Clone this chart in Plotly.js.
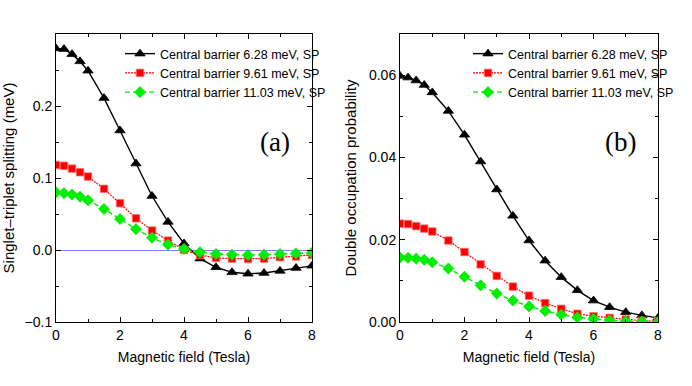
<!DOCTYPE html>
<html>
<head>
<meta charset="utf-8">
<script src="https://cdn.plot.ly/plotly-3.0.1.min.js"></script>
<style>html,body{margin:0;padding:0;background:#fff;}#chart{width:692px;height:386px;}</style>
</head>
<body>
<div id="chart"></div>
<script>
// Magnetic field (Tesla)
const field = [0, 0.25, 0.5, 0.75, 1, 1.5, 2, 2.5, 3, 3.5, 4, 4.5, 5, 5.5, 6, 6.5, 7, 7.5, 8];

const seriesNames = [
  "Central barrier 6.28 meV, SP",
  "Central barrier 9.61 meV, SP",
  "Central barrier 11.03 meV, SP"
];

// Panel (a): singlet-triplet splitting (meV)
const splitting628 = [0.280, 0.279, 0.272, 0.262, 0.249, 0.211, 0.166, 0.120, 0.075, 0.039, 0.009, -0.012, -0.024, -0.031, -0.033, -0.032, -0.029, -0.025, -0.022];
const splitting961 = [0.118, 0.117, 0.113, 0.108, 0.102, 0.085, 0.065, 0.044, 0.027, 0.013, 0.000, -0.007, -0.011, -0.012, -0.0125, -0.012, -0.010, -0.009, -0.007];
const splitting1103 = [0.080, 0.079, 0.077, 0.074, 0.069, 0.057, 0.043, 0.029, 0.017, 0.0075, 0.0015, -0.003, -0.0055, -0.0065, -0.007, -0.0065, -0.0055, -0.0045, -0.004];

// Panel (b): double occupation probability
const occupation628 = [0.0598, 0.0594, 0.0587, 0.0576, 0.0558, 0.0513, 0.0455, 0.0390, 0.0322, 0.0258, 0.0198, 0.0149, 0.0109, 0.0077, 0.0052, 0.0036, 0.0024, 0.0016, 0.0010];
const occupation961 = [0.0239, 0.0238, 0.0233, 0.0227, 0.0220, 0.0198, 0.0170, 0.0140, 0.0112, 0.0086, 0.0064, 0.0046, 0.0032, 0.0020, 0.0014, 0.0010, 0.0006, 0.0003, 0.0002];
const occupation1103 = [0.0157, 0.0156, 0.0154, 0.0151, 0.0145, 0.0130, 0.0110, 0.0089, 0.0069, 0.0052, 0.0038, 0.0027, 0.0018, 0.0011, 0.0007, 0.0004, 0.0002, 0.0001, 0.0000];

const xTicks = [0, 2, 4, 6, 8];
const xMinor = [1, 3, 5, 7];
const yTicksA = [-0.1, 0.0, 0.1, 0.2];
const yMinorA = [-0.05, 0.05, 0.15, 0.25];
const yTicksB = [0, 0.02, 0.04, 0.06];
const yMinorB = [0.01, 0.03, 0.05];
const panelLabels = ["(a)", "(b)"];

const narrow = "Liberation Sans Narrow, Arial Narrow, sans-serif";
const regular = "Liberation Sans, Arial, sans-serif";

const styles = [
  {color: "#000000", symbol: "triangle-up", size: 9, dash: "solid", width: 1.4, edge: "#000000"},
  {color: "#ff0000", symbol: "square", size: 7.5, dash: "2px,1px", width: 1.2, edge: "#ff7070"},
  {color: "#00ee00", symbol: "diamond", size: 8.5, dash: "5px,3px", width: 1.4, edge: "#00ee00"}
];

function mk(y, i, xa, ya, legend) {
  const s = styles[i];
  return {
    x: field, y: y, xaxis: xa, yaxis: ya, legend: legend,
    type: "scatter", mode: "lines+markers", name: seriesNames[i],
    line: {color: s.color, width: s.width, dash: s.dash},
    marker: {color: s.color, symbol: s.symbol, size: s.size, line: {width: 0.8, color: s.edge}}
  };
}

const data = [
  mk(splitting628, 0, "x", "y", "legend"),
  mk(splitting961, 1, "x", "y", "legend"),
  mk(splitting1103, 2, "x", "y", "legend"),
  mk(occupation628, 0, "x2", "y2", "legend2"),
  mk(occupation961, 1, "x2", "y2", "legend2"),
  mk(occupation1103, 2, "x2", "y2", "legend2")
];

const W = 692, H = 386;
const yDom = [1 - 322 / H, 1 - 34 / H];

function xaxis(dom, anchor) {
  return {
    domain: dom, anchor: anchor, range: [0, 8],
    tickvals: xTicks, ticks: "inside", ticklen: 5, tickcolor: "#000",
    minor: {tickvals: xMinor, ticks: "inside", ticklen: 3, tickcolor: "#000"},
    showline: true, linecolor: "#000", linewidth: 1, mirror: "allticks",
    showgrid: false, zeroline: false,
    tickfont: {family: narrow, size: 14, color: "#000"},
    title: {text: "Magnetic field (Tesla)", font: {family: narrow, size: 14, color: "#000"}, standoff: 10}
  };
}
function yaxis(anchor, range, tv, mv, fmt, title, zl) {
  return {
    domain: yDom, anchor: anchor, range: range,
    tickvals: tv, tickformat: fmt, ticks: "inside", ticklen: 5, tickcolor: "#000",
    minor: {tickvals: mv, ticks: "inside", ticklen: 3, tickcolor: "#000"},
    showline: true, linecolor: "#000", linewidth: 1, mirror: "allticks",
    showgrid: false, zeroline: zl, zerolinecolor: "#8080ff", zerolinewidth: 1,
    tickfont: {family: narrow, size: 14, color: "#000"},
    title: {text: title, font: {family: regular, size: 15, color: "#000"}, standoff: 8}
  };
}

const legendFont = {family: narrow, size: 12.5, color: "#000"};
const labelFont = {family: "Liberation Serif, Times New Roman, serif", size: 27, color: "#000"};

const layout = {
  width: W, height: H,
  margin: {l: 0, r: 0, t: 0, b: 0},
  paper_bgcolor: "#fff", plot_bgcolor: "#fff",
  xaxis: xaxis([56 / W, 312 / W], "y"),
  yaxis: yaxis("x", [-0.1, 0.3], yTicksA, yMinorA, ".1f", "Singlet\u2013triplet splitting (meV)", true),
  xaxis2: xaxis([400 / W, 658 / W], "y2"),
  yaxis2: yaxis("x2", [0, 0.07], yTicksB, yMinorB, ".2f", "Double occupation probability", false),
  legend: {x: 120 / W, y: 1 - 39 / H, xanchor: "left", yanchor: "top", bgcolor: "rgba(0,0,0,0)",
           font: legendFont, tracegroupgap: 0},
  legend2: {x: 468 / W, y: 1 - 39 / H, xanchor: "left", yanchor: "top", bgcolor: "rgba(0,0,0,0)",
           font: legendFont, tracegroupgap: 0},
  annotations: [
    {xref: "x domain", yref: "y domain", x: (275 - 56) / 256, y: (322 - 142) / 288, text: panelLabels[0], showarrow: false,
     xanchor: "center", yanchor: "middle", font: labelFont},
    {xref: "x2 domain", yref: "y2 domain", x: (620 - 400) / 258, y: (322 - 142) / 288, text: panelLabels[1], showarrow: false,
     xanchor: "center", yanchor: "middle", font: labelFont}
  ],
  showlegend: true
};

Plotly.newPlot("chart", data, layout, {displayModeBar: false, staticPlot: true});
</script>
</body>
</html>
